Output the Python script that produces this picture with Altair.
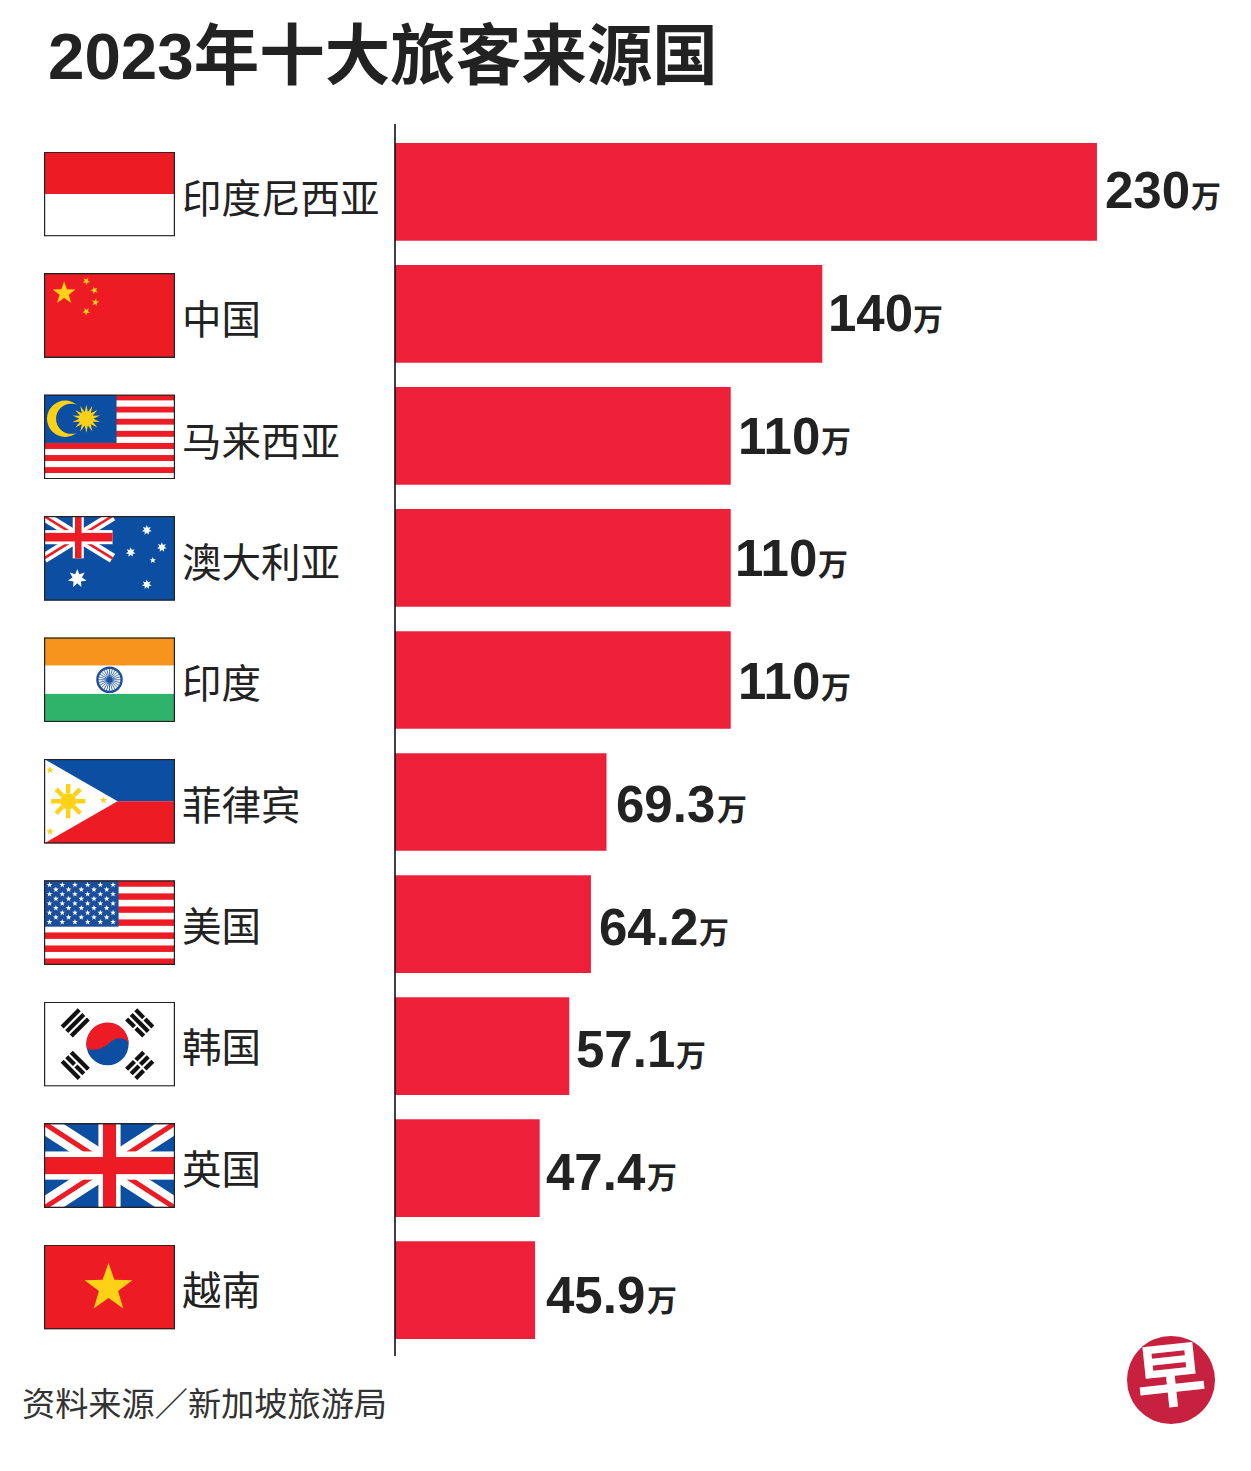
import math
from urllib.parse import quote
import altair as alt
import pandas as pd

TITLE = "2023年十大旅客来源国"
SOURCE = "资料来源／新加坡旅游局"
COUNTRIES = ["印度尼西亚", "中国", "马来西亚", "澳大利亚", "印度", "菲律宾", "美国", "韩国", "英国", "越南"]
VALUES = [230, 140, 110, 110, 110, 69.3, 64.2, 57.1, 47.4, 45.9]
LABELS = ["230", "140", "110", "110", "110", "69.3", "64.2", "57.1", "47.4", "45.9"]
UNIT = "万"

# layout (pixels on the page)
PX_PER = 3.052
ZERO = 395
NUM_LEFT = [1105, 828, 738, 735, 738, 616, 599, 576, 546, 546]
UNIT_CENTER = [1206, 928, 836, 833, 836, 732, 714, 691, 662, 662]

RED = "#ee2039"
FLAGRED = "#ed1c24"
BLUE = "#0b4ea2"
YEL = "#fcd116"


def star(cx, cy, r, fill, n=5, ratio=0.4, rot=-90):
    pts = []
    for i in range(2 * n):
        a = math.radians(rot + i * 180 / n)
        rr = r if i % 2 == 0 else r * ratio
        pts.append(f"{cx + rr * math.cos(a):.2f},{cy + rr * math.sin(a):.2f}")
    return f'<polygon points="{" ".join(pts)}" fill="{fill}"/>'


def rect(x, y, w, h, fill):
    return f'<rect x="{x}" y="{y}" width="{w}" height="{h}" fill="{fill}"/>'


def stripes(n, h=84, w=130):
    s = h / n
    return "".join(rect(0, i * s, w, s, FLAGRED if i % 2 == 0 else "#fff") for i in range(n))


def jack(w, h):
    k = h / 84
    return (
        rect(0, 0, w, h, BLUE)
        + f'<path d="M0 0L{w} {h}M{w} 0L0 {h}" stroke="#fff" stroke-width="{20 * k}"/>'
        + f'<path d="M0 0L{w} {h}M{w} 0L0 {h}" stroke="{FLAGRED}" stroke-width="{5 * k}"/>'
        + rect(w / 2 - 11 * k, 0, 22 * k, h, "#fff")
        + rect(0, h / 2 - 14 * k, w, 28 * k, "#fff")
        + rect(w / 2 - 6.5 * k, 0, 13 * k, h, FLAGRED)
        + rect(0, h / 2 - 8.5 * k, w, 17 * k, FLAGRED)
    )


def flag(body):
    s = (
        '<svg xmlns="http://www.w3.org/2000/svg" width="131" height="85" viewBox="0 0 130 84">'
        + body
        + '<rect x=".5" y=".5" width="129" height="83" fill="none" stroke="#222" stroke-width="1.4"/></svg>'
    )
    return "data:image/svg+xml;charset=utf-8," + quote(s)


def trigram(cx, cy, rot, pattern):
    out = f'<g transform="translate({cx} {cy}) rotate({rot})">'
    for i, broken in enumerate(pattern):
        y = (i - 1) * 6.4 - 2.1
        if broken:
            out += rect(-12, y, 11, 4.2, "#111") + rect(1, y, 11, 4.2, "#111")
        else:
            out += rect(-12, y, 24, 4.2, "#111")
    return out + "</g>"


us_stars = ""
for r in range(9):
    count = 6 if r % 2 == 0 else 5
    for c in range(count):
        us_stars += star(5.5 + c * 12.6 + (6.3 if r % 2 else 0), 4.5 + r * 4.6, 3, "#fff")

wheel = (
    '<circle cx="65" cy="42" r="12" fill="#fff" stroke="#1b4f9c" stroke-width="2.4"/>'
    + "".join(
        f'<line x1="65" y1="42" x2="{65 + 12 * math.cos(i * math.pi / 12):.2f}" '
        f'y2="{42 + 12 * math.sin(i * math.pi / 12):.2f}" stroke="#1b4f9c" stroke-width=".8"/>'
        for i in range(24)
    )
    + '<circle cx="65" cy="42" r="3" fill="#1b4f9c"/>'
)

ph_rays = "".join(
    f'<line x1="{24 + 8 * math.cos(i * math.pi / 4):.2f}" y1="{42 + 8 * math.sin(i * math.pi / 4):.2f}" '
    f'x2="{24 + 17 * math.cos(i * math.pi / 4):.2f}" y2="{42 + 17 * math.sin(i * math.pi / 4):.2f}" '
    f'stroke="{YEL}" stroke-width="4.4"/>'
    for i in range(8)
)

FLAGS = [
    flag(rect(0, 0, 130, 84, "#fff") + rect(0, 0, 130, 42, FLAGRED)),
    flag(
        rect(0, 0, 130, 84, FLAGRED)
        + star(20, 20, 12, YEL)
        + star(42, 8, 4, YEL, rot=-60)
        + star(50, 17, 4, YEL, rot=-110)
        + star(51, 29, 4, YEL, rot=-80)
        + star(42, 38, 4, YEL, rot=-50)
    ),
    flag(
        stripes(14)
        + rect(0, 0, 72, 48, BLUE)
        + f'<circle cx="21" cy="24" r="18" fill="{YEL}"/><circle cx="27" cy="24" r="15" fill="{BLUE}"/>'
        + star(42, 24, 14, YEL, n=14, ratio=0.5)
    ),
    flag(
        rect(0, 0, 130, 84, BLUE)
        + jack(68, 42)
        + star(33, 62, 9.5, "#fff", n=7, ratio=0.5)
        + star(102, 14, 5, "#fff", n=7, ratio=0.5)
        + star(86, 36, 5, "#fff", n=7, ratio=0.5)
        + star(117, 31, 5, "#fff", n=7, ratio=0.5)
        + star(108, 44, 3.2, "#fff", ratio=0.45)
        + star(102, 68, 5, "#fff", n=7, ratio=0.5)
    ),
    flag(rect(0, 0, 130, 28, "#f7941d") + rect(0, 28, 130, 28, "#fff") + rect(0, 56, 130, 28, "#2fb36b") + wheel),
    flag(
        rect(0, 0, 130, 42, BLUE)
        + rect(0, 42, 130, 42, FLAGRED)
        + '<polygon points="0,0 73,42 0,84" fill="#fff"/>'
        + f'<circle cx="24" cy="42" r="8" fill="{YEL}"/>'
        + ph_rays
        + star(6, 11, 4, YEL)
        + star(59, 41, 4, YEL)
        + star(6, 72, 4, YEL)
    ),
    flag(stripes(13) + rect(0, 0, 74, 46, "#1b4f9c") + us_stars),
    flag(
        rect(0, 0, 130, 84, "#fff")
        + trigram(31, 21, -45, [0, 0, 0])
        + trigram(95, 21, 45, [1, 0, 1])
        + trigram(31, 63, 45, [0, 1, 0])
        + trigram(95, 63, -45, [1, 1, 1])
        + f'<circle cx="63" cy="42" r="21" fill="{BLUE}"/>'
        + f'<path d="M42.5 46A21 21 0 1 1 84 42C82 35 72 34 66 40C60 46 50 50 42.5 46Z" fill="{FLAGRED}"/>'
    ),
    flag(jack(130, 84)),
    flag(rect(0, 0, 130, 84, FLAGRED) + star(64, 43, 25, YEL)),
]

df = pd.DataFrame(
    {
        "country": COUNTRIES,
        "value": VALUES,
        "label": LABELS,
        "unit": UNIT,
        "flag": FLAGS,
        "num_x": [(p - ZERO) / PX_PER for p in NUM_LEFT],
        "unit_x": [(p - ZERO) / PX_PER for p in UNIT_CENTER],
    }
)

X_SCALE = alt.Scale(domain=[(8 - ZERO) / PX_PER, (1243 - ZERO) / PX_PER], range=[0, 1235], nice=False, zero=False)


def xq(field):
    return alt.X(f"{field}:Q", scale=X_SCALE, axis=None, stack=None)


def row_y(top, bottom):
    return alt.Y(
        "country:N",
        sort=COUNTRIES,
        axis=None,
        scale=alt.Scale(type="point", domain=COUNTRIES, range=[top - 8, bottom - 8], padding=0),
    )


bars = (
    alt.Chart(df)
    .mark_bar(color=RED)
    .encode(
        x=xq("value"),
        y=alt.Y(
            "country:N",
            sort=COUNTRIES,
            axis=None,
            scale=alt.Scale(type="band", domain=COUNTRIES, range=[135, 1331], paddingInner=0.2, paddingOuter=0),
        ),
    )
)

rule = (
    alt.Chart(pd.DataFrame({"zero": [0]}))
    .mark_rule(color="#111", strokeWidth=1.6)
    .encode(x=xq("zero"), y=alt.value(116), y2=alt.value(1348))
)

flags = (
    alt.Chart(df)
    .mark_image(width=131, height=85, align="center", baseline="middle")
    .encode(x=alt.value(101.5), y=row_y(194, 1287), url="flag:N")
)

names = (
    alt.Chart(df)
    .mark_text(font="Noto Sans CJK SC", fontSize=39.5, fontWeight=400, align="left", baseline="middle", color="#222")
    .encode(x=alt.value(174), y=row_y(201, 1293), text="country:N")
)

numbers = (
    alt.Chart(df)
    .mark_text(font="Liberation Sans", fontSize=51, fontWeight="bold", align="left", baseline="middle", color="#222")
    .encode(x=xq("num_x"), y=row_y(193, 1298), text="label:N")
)

units = (
    alt.Chart(df)
    .mark_text(font="Noto Sans CJK SC", fontSize=30, fontWeight="bold", align="center", baseline="middle", color="#222")
    .encode(x=xq("unit_x"), y=row_y(198, 1302), text="unit:N")
)

title = (
    alt.Chart(pd.DataFrame({"t": [TITLE]}))
    .mark_text(
        font="Liberation Sans, Noto Sans CJK SC",
        fontSize=65.5,
        fontWeight="bold",
        align="left",
        baseline="alphabetic",
        color="#222",
    )
    .encode(x=alt.value(40), y=alt.value(71), text="t:N")
)

source = (
    alt.Chart(pd.DataFrame({"t": [SOURCE]}))
    .mark_text(font="Noto Sans CJK SC", fontSize=33.2, fontWeight=400, align="left", baseline="middle", color="#333")
    .encode(x=alt.value(14), y=alt.value(1398), text="t:N")
)

logo_disc = (
    alt.Chart(pd.DataFrame({"k": ["早"]}))
    .mark_point(shape="circle", filled=True, opacity=1, color="#c8213f", size=7744, strokeWidth=0)
    .encode(x=alt.value(1163), y=alt.value(1372))
)

logo_text = (
    alt.Chart(pd.DataFrame({"k": ["早"]}))
    .mark_text(
        font="Noto Sans CJK SC", fontSize=70, fontWeight="bold", align="center", baseline="middle", color="#fff", angle=354
    )
    .encode(x=alt.value(1163), y=alt.value(1372), text="k:N")
)

chart = (
    alt.layer(bars, rule, flags, names, numbers, units, title, source, logo_disc, logo_text)
    .resolve_scale(y="independent")
    .properties(width=1235, height=1455, padding=0, autosize=alt.AutoSizeParams(type="none"), background="#ffffff")
    .configure_view(stroke=None)
)

chart.save("out.html", embed_options={"renderer": "svg", "actions": False})
